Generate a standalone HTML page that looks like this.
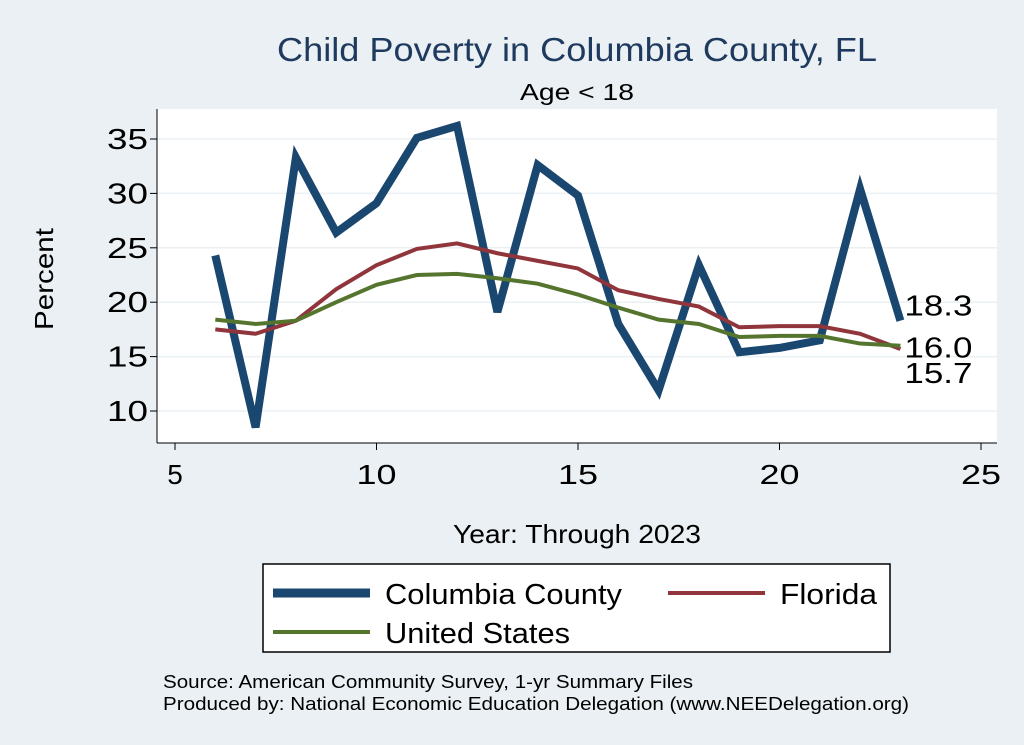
<!DOCTYPE html>
<html><head><meta charset="utf-8"><style>
body{margin:0;background:#eaf0f3;}
svg{display:block;font-family:"Liberation Sans",sans-serif;}
</style></head><body>
<svg id="c" width="1024" height="745" viewBox="0 0 1024 745">
<rect width="1024" height="745" fill="#eaf0f3"/>
<text x="577" y="61" font-size="33" fill="#1f3a5f" text-anchor="middle" textLength="600" lengthAdjust="spacingAndGlyphs">Child Poverty in Columbia County, FL</text>
<text x="577" y="100" font-size="23" text-anchor="middle" textLength="114" lengthAdjust="spacingAndGlyphs">Age &lt; 18</text>
<rect x="157" y="109" width="840" height="334" fill="#fff"/>
<g id="grid"></g>
<g id="axes"></g>
<g id="series"></g>
<text x="577" y="543" font-size="26" text-anchor="middle" textLength="248" lengthAdjust="spacingAndGlyphs">Year: Through 2023</text>
<text x="53" y="279" font-size="26" text-anchor="middle" textLength="102" lengthAdjust="spacingAndGlyphs" transform="rotate(-90 53 279)">Percent</text>
<g>
<rect x="263" y="564" width="627" height="88" fill="#fff" stroke="#000" stroke-width="1.5"/>
<line x1="273" y1="593" x2="370" y2="593" stroke="#1a476f" stroke-width="9"/>
<text x="385" y="604" font-size="29" textLength="237" lengthAdjust="spacingAndGlyphs">Columbia County</text>
<line x1="668" y1="593" x2="765" y2="593" stroke="#90353b" stroke-width="4"/>
<text x="780" y="604" font-size="29" textLength="97" lengthAdjust="spacingAndGlyphs">Florida</text>
<line x1="273" y1="632" x2="370" y2="632" stroke="#55752f" stroke-width="4"/>
<text x="385" y="643" font-size="29" textLength="185" lengthAdjust="spacingAndGlyphs">United States</text>
</g>
<text x="163" y="688" font-size="18" textLength="530" lengthAdjust="spacingAndGlyphs">Source: American Community Survey, 1-yr Summary Files</text>
<text x="163" y="710" font-size="18" textLength="746" lengthAdjust="spacingAndGlyphs">Produced by: National Economic Education Delegation (www.NEEDelegation.org)</text>
</svg>
<script>
const years=[6,7,8,9,10,11,12,13,14,15,16,17,18,19,20,21,22,23];
const columbia=[24.3,8.5,33.3,26.4,29.1,35.1,36.2,19.1,32.6,29.8,18,11.9,23.4,15.4,15.8,16.5,30.4,18.3];
const florida=[17.5,17.1,18.3,21.2,23.4,24.9,25.4,24.5,23.8,23.1,21.1,20.3,19.6,17.7,17.8,17.8,17.1,15.7];
const us=[18.4,18.0,18.3,20.0,21.6,22.5,22.6,22.2,21.7,20.7,19.5,18.4,18.0,16.8,16.9,16.9,16.2,16.0];
const xTicks=[5,10,15,20,25];
const yTicks=[10,15,20,25,30,35];
const NS='http://www.w3.org/2000/svg';
const X=v=>175+(v-5)*40.3;
const Y=v=>411-(v-10)*10.88;
function mk(t,a,p){const e=document.createElementNS(NS,t);for(const k in a)e.setAttribute(k,a[k]);p.appendChild(e);return e;}
const grid=document.getElementById('grid'),axes=document.getElementById('axes'),ser=document.getElementById('series');
yTicks.forEach(v=>{
 const g=mk('line',{x1:157,x2:997,y1:Y(v),y2:Y(v),stroke:'#eaf0f3','stroke-width':1.5},grid);
 
 
 mk('line',{x1:150,x2:157,y1:Y(v),y2:Y(v),stroke:'#000'},axes);
 const t=mk('text',{x:148,y:Y(v)+10,'font-size':29,'text-anchor':'end',textLength:41,lengthAdjust:'spacingAndGlyphs'},axes);t.textContent=v;
 
 
});
xTicks.forEach(v=>{
 mk('line',{x1:X(v),x2:X(v),y1:443,y2:450,stroke:'#000'},axes);
 const t=mk('text',{x:X(v),y:484,'font-size':28,'text-anchor':'middle'},axes);t.textContent=v;
 if(v>=10){t.setAttribute('textLength',40);t.setAttribute('lengthAdjust','spacingAndGlyphs');}
 
 
});
mk('line',{x1:157,x2:157,y1:109,y2:443,stroke:'#000'},axes);
mk('line',{x1:157,x2:997,y1:443,y2:443,stroke:'#000'},axes);
function line(vals,col,w,name){
 const p=mk('polyline',{points:years.map((y,i)=>X(y)+','+Y(vals[i])).join(' '),fill:'none',stroke:col,'stroke-width':w,'stroke-linejoin':'miter'},ser);
 
 
}
line(columbia,'#1a476f',8,'line-columbia-county');
line(florida,'#90353b',4,'line-florida');
line(us,'#55752f',4,'line-united-states');
const n=years.length-1;
[[columbia[n],-5,'label-columbia-last'],[us[n],12,'label-us-last'],[florida[n],34,'label-florida-last']].forEach(([v,dy,nm])=>{
 const t=mk('text',{x:X(years[n])+4,y:Y(v)+dy,'font-size':29,textLength:68,lengthAdjust:'spacingAndGlyphs'},ser);t.textContent=v.toFixed(1);
 
 
});
</script>
</body></html>
